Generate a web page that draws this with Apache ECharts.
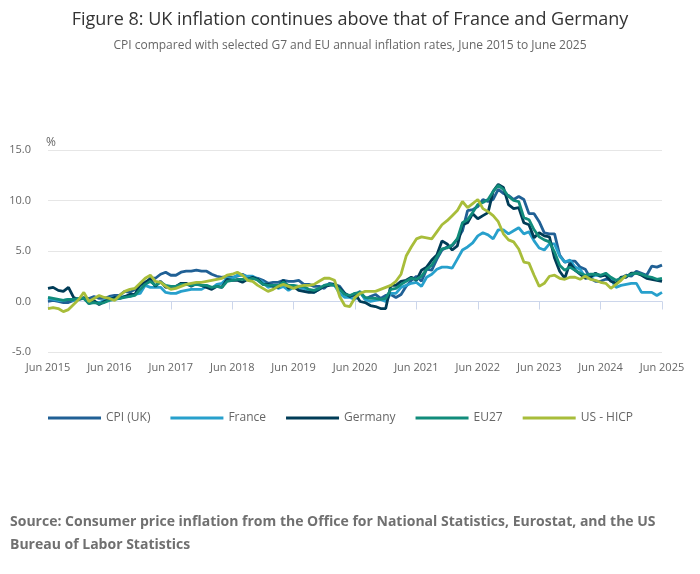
<!DOCTYPE html>
<html>
<head>
<meta charset="utf-8">
<script src="https://cdn.jsdelivr.net/npm/echarts@6/dist/echarts.min.js"></script>
<style>
  html, body { margin: 0; padding: 0; background: #fff; }
  #chart { width: 700px; height: 574px; }
</style>
</head>
<body>
<div id="chart"></div>
<script>
// months Jun 2015 .. Jun 2025
const months = [];
const monthNames = ["Jan", "Feb", "Mar", "Apr", "May", "Jun", "Jul", "Aug", "Sep", "Oct", "Nov", "Dec"];
for (let y = 2015, m = 5; y < 2025 || (y === 2025 && m <= 5); m++) {
  if (m > 11) { m = 0; y++; }
  months.push(monthNames[m] + " " + y);
}

const ukCpi = [
  0.0, 0.1, 0.0, -0.1, -0.1, 0.1, 0.2,
  0.3, 0.3, 0.5, 0.3, 0.3, 0.5, 0.6, 0.6, 1.0, 0.9, 1.2, 1.6,
  1.8, 2.3, 2.3, 2.7, 2.9, 2.6, 2.6, 2.9, 3.0, 3.0, 3.1, 3.0,
  3.0, 2.7, 2.5, 2.4, 2.4, 2.4, 2.5, 2.7, 2.4, 2.4, 2.3, 2.1,
  1.8, 1.9, 1.9, 2.1, 2.0, 2.0, 2.1, 1.7, 1.7, 1.5, 1.5, 1.3,
  1.8, 1.7, 1.5, 0.8, 0.5, 0.6, 1.0, 0.2, 0.5, 0.7, 0.3, 0.6,
  0.7, 0.4, 0.7, 1.5, 2.1, 2.5, 2.0, 3.2, 3.1, 4.2, 5.1, 5.4,
  5.5, 6.2, 7.0, 9.0, 9.1, 9.4, 10.1, 9.9, 10.1, 11.1, 10.7, 10.5,
  10.1, 10.4, 10.1, 8.7, 8.7, 7.9, 6.8, 6.7, 6.7, 4.6, 3.9, 4.0,
  4.0, 3.4, 3.2, 2.3, 2.0, 2.0, 2.2, 2.2, 1.7, 2.3, 2.6, 2.5,
  3.0, 2.8, 2.6, 3.5, 3.4, 3.6
];

const france = [
  0.3, 0.2, 0.1, 0.1, 0.2, 0.1, 0.3,
  0.3, -0.1, -0.1, -0.1, 0.1, 0.3, 0.4, 0.4, 0.5, 0.5, 0.7, 0.8,
  1.6, 1.4, 1.4, 1.4, 0.9, 0.8, 0.8, 1.0, 1.1, 1.2, 1.2, 1.2,
  1.5, 1.3, 1.7, 1.8, 2.3, 2.3, 2.6, 2.6, 2.5, 2.5, 2.2, 1.9,
  1.4, 1.6, 1.3, 1.5, 1.1, 1.4, 1.3, 1.3, 1.1, 0.9, 1.2, 1.6,
  1.7, 1.6, 0.8, 0.4, 0.4, 0.2, 0.9, 0.2, 0.0, 0.1, 0.2, 0.0,
  0.8, 0.8, 1.4, 1.6, 1.8, 1.9, 1.5, 2.4, 2.7, 3.2, 3.4, 3.4,
  3.3, 4.2, 5.1, 5.4, 5.8, 6.5, 6.8, 6.6, 6.2, 7.1, 7.1, 6.7,
  7.0, 7.3, 6.7, 6.9, 6.0, 5.3, 5.1, 5.7, 5.7, 4.5, 3.9, 4.1,
  3.4, 3.2, 2.4, 2.4, 2.6, 2.5, 2.7, 2.2, 1.4, 1.6, 1.7, 1.8,
  1.8, 0.9, 0.9, 0.9, 0.6, 0.9
];

const germany = [
  1.3, 1.4, 1.1, 1.0, 1.4, 0.4, 0.2,
  0.4, -0.2, 0.1, -0.3, 0.0, 0.2, 0.4, 0.3, 0.5, 0.7, 0.7, 1.7,
  1.9, 2.2, 1.5, 2.0, 1.4, 1.5, 1.5, 1.8, 1.8, 1.5, 1.8, 1.6,
  1.4, 1.2, 1.5, 1.4, 2.2, 2.1, 2.1, 1.9, 2.2, 2.4, 2.2, 1.7,
  1.7, 1.5, 1.4, 2.1, 1.3, 1.5, 1.1, 1.0, 0.9, 0.9, 1.2, 1.5,
  1.6, 1.7, 1.3, 0.8, 0.5, 0.8, 0.0, -0.1, -0.4, -0.5, -0.7, -0.7,
  1.6, 1.6, 2.0, 2.1, 2.4, 2.1, 3.1, 3.4, 4.1, 4.6, 6.0, 5.7,
  5.1, 5.5, 7.6, 7.8, 8.7, 8.2, 8.5, 8.8, 10.9, 11.6, 11.3, 9.6,
  9.2, 9.3, 7.8, 7.6, 6.3, 6.8, 6.5, 6.4, 4.3, 3.0, 2.3, 3.8,
  3.1, 2.7, 2.3, 2.4, 2.8, 2.5, 2.6, 2.0, 1.8, 2.4, 2.4, 2.8,
  2.8, 2.6, 2.3, 2.2, 2.1, 2.0
];

const eu27 = [
  0.4, 0.3, 0.2, 0.1, 0.2, 0.2, 0.3,
  0.3, -0.2, -0.1, -0.2, -0.1, 0.1, 0.2, 0.3, 0.4, 0.5, 0.6, 1.2,
  1.7, 2.0, 1.6, 1.9, 1.6, 1.5, 1.5, 1.7, 1.7, 1.6, 1.7, 1.6,
  1.6, 1.4, 1.5, 1.4, 2.0, 2.1, 2.2, 2.2, 2.2, 2.3, 2.1, 1.7,
  1.6, 1.6, 1.6, 1.9, 1.6, 1.6, 1.5, 1.5, 1.2, 1.1, 1.3, 1.6,
  1.7, 1.6, 1.2, 0.7, 0.6, 0.8, 0.9, 0.4, 0.3, 0.3, 0.2, 0.3,
  1.2, 1.3, 1.7, 2.0, 2.3, 2.2, 2.5, 3.2, 3.6, 4.4, 5.2, 5.3,
  5.6, 6.2, 7.8, 8.1, 8.8, 9.6, 9.8, 10.1, 10.9, 11.5, 11.1, 10.4,
  10.0, 9.9, 8.3, 8.1, 7.1, 6.4, 6.1, 5.9, 4.9, 3.6, 3.1, 3.4,
  3.1, 2.8, 2.6, 2.7, 2.7, 2.6, 2.8, 2.4, 2.1, 2.3, 2.5, 2.7,
  2.8, 2.7, 2.5, 2.4, 2.2, 2.3
];

// US series stops in late 2024
const usHicp = [
  -0.7, -0.6, -0.7, -1.0, -0.8, -0.3, 0.2,
  0.9, 0.0, 0.3, 0.6, 0.4, 0.3, 0.1, 0.6, 1.0, 1.2, 1.3, 1.8,
  2.3, 2.6, 2.0, 1.9, 1.5, 1.2, 1.3, 1.5, 1.7, 1.8, 1.9, 1.9,
  2.0, 2.1, 2.2, 2.3, 2.6, 2.7, 2.9, 2.6, 2.1, 2.0, 1.6, 1.3,
  1.0, 1.2, 1.5, 1.7, 1.5, 1.3, 1.5, 1.6, 1.6, 1.7, 2.0, 2.3,
  2.3, 2.1, 0.5, -0.4, -0.5, 0.4, 0.8, 1.0, 1.0, 1.0, 1.2, 1.4,
  1.6, 2.0, 2.7, 4.5, 5.4, 6.2, 6.4, 6.3, 6.2, 6.9, 7.6, 8.0,
  8.5, 9.0, 9.9, 9.3, 9.7, 10.1, 9.2, 8.9, 8.5, 7.9, 6.7, 6.1,
  5.9, 5.2, 3.9, 3.8, 2.6, 1.5, 1.8, 2.5, 2.6, 2.3, 2.2, 2.4,
  2.4, 2.2, 2.5, 2.2, 2.1, 1.9, 1.8, 1.3, 1.7, 2.1, 2.6, null,
  null, null, null, null, null, null
];

const seriesNames = ["CPI (UK)", "France", "Germany", "EU27", "US - HICP"];
const seriesData = [ukCpi, france, germany, eu27, usHicp];
const colors = ["#206095", "#27a0cc", "#003c57", "#118c7b", "#a8bd3a"];

const font = "Open Sans";
const chart = echarts.init(document.getElementById("chart"));

chart.setOption({
  animation: false,
  color: colors,
  textStyle: { fontFamily: font },
  title: [
    {
      text: "Figure 8: UK inflation continues above that of France and Germany",
      left: "center", top: 6,
      textStyle: { fontFamily: font, fontSize: 18, fontWeight: "normal", color: "#333" }
    },
    {
      text: "CPI compared with selected G7 and EU annual inflation rates, June 2015 to June 2025",
      left: "center", top: 35,
      textStyle: { fontFamily: font, fontSize: 12, fontWeight: "normal", color: "#666" }
    },
    {
      text: "Source: Consumer price inflation from the Office for National Statistics, Eurostat, and the US\nBureau of Labor Statistics",
      left: 5, top: 506,
      textStyle: { fontFamily: font, fontSize: 14, fontWeight: "bold", color: "#707070", lineHeight: 23 }
    }
  ],
  legend: {
    top: 407,
    left: 43,
    icon: "rect",
    itemWidth: 53,
    itemHeight: 3,
    itemGap: 20,
    textStyle: { fontFamily: font, fontSize: 12, color: "#666" },
    data: seriesNames
  },
  grid: { left: 48, right: 38, top: 150, bottom: 222, containLabel: false },
  xAxis: {
    type: "category",
    data: months,
    boundaryGap: false,
    axisLine: { lineStyle: { color: "#ccd6eb" } },
    axisTick: { interval: 11, length: 8, lineStyle: { color: "#ccd6eb" } },
    axisLabel: { interval: 11, color: "#666", fontSize: 11, fontFamily: font, margin: 10 },
    splitLine: { show: false }
  },
  yAxis: {
    type: "value",
    min: -5, max: 15, interval: 5,
    name: "%",
    nameLocation: "end",
    nameGap: 1,
    nameTextStyle: { color: "#666", fontSize: 12, fontFamily: font, align: "left", padding: [0, 0, 0, -2] },
    axisLine: { show: false },
    axisTick: { show: false },
    axisLabel: { color: "#666", fontSize: 11, fontFamily: font, margin: 17, formatter: (v) => v.toFixed(1) },
    splitLine: { lineStyle: { color: "#e6e6e6" } }
  },
  series: seriesNames.map((name, i) => ({
    name: name,
    type: "line",
    data: seriesData[i],
    showSymbol: false,
    symbol: "none",
    lineStyle: { width: 2.8 },
    emphasis: { disabled: true }
  }))
});
</script>
</body>
</html>
